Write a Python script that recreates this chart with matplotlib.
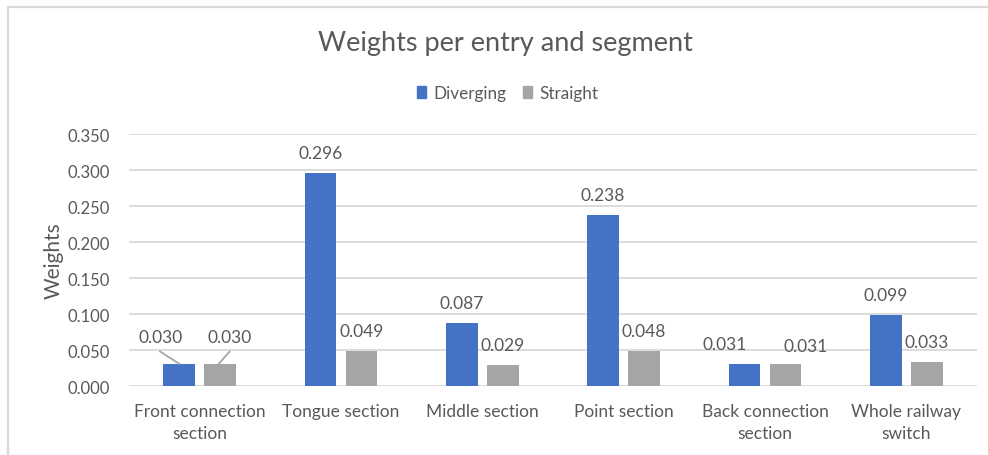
import matplotlib
matplotlib.use("Agg")
import matplotlib.pyplot as plt
from matplotlib.patches import Rectangle
import numpy as np

plt.rcParams['font.family'] = ['Lato', 'DejaVu Sans']

categories = ["Front connection\nsection", "Tongue section", "Middle section",
              "Point section", "Back connection\nsection", "Whole railway\nswitch"]
diverging = [0.030, 0.296, 0.087, 0.238, 0.031, 0.099]
straight = [0.030, 0.049, 0.029, 0.048, 0.031, 0.033]
yticks = [0.0, 0.05, 0.10, 0.15, 0.20, 0.25, 0.30, 0.35]

BLUE = "#4472C4"
GRAY = "#A5A5A5"
TEXT = "#595959"
GRID = "#D9D9D9"

W, H = 988, 456
fig = plt.figure(figsize=(W / 100, H / 100), dpi=100)
fig.patch.set_facecolor("white")

# chart border (runs off the right and bottom edge)
fig.patches.append(Rectangle((8 / W, -0.1), 1.2, 1 - 7.5 / H + 0.1,
                             transform=fig.transFigure, fill=False,
                             edgecolor=GRID, linewidth=1.6))

ax = fig.add_axes([129 / W, 1 - 387 / H, (977 - 129) / W, (387 - 135) / H])
x = np.arange(len(categories))
bw = 0.226
off = 0.145
ax.bar(x - off, diverging, width=bw, color=BLUE, zorder=3)
ax.bar(x + off, straight, width=bw, color=GRAY, zorder=3)

ax.set_xlim(-0.5, len(categories) - 0.5)
ax.set_ylim(0, 0.35)
ax.set_yticks(yticks)
ax.set_yticklabels([f"{v:.3f}" for v in yticks])
ax.grid(axis="y", color=GRID, linewidth=1.3, zorder=0)
for s in ax.spines.values():
    s.set_visible(False)
ax.tick_params(axis="both", length=0, colors=TEXT, labelsize=12)
ax.tick_params(axis="y", pad=13.5)
ax.tick_params(axis="x", pad=12, labelsize=12.5)
ax.set_xticks(x)
ax.set_xticklabels(categories, linespacing=1.45)
ax.set_ylabel("Weights", color=TEXT, fontsize=15, labelpad=3)

# value labels
ypix = 0.35 / 252.0
xpix = 1.0 / 141.33
# pixel offsets for the lifted labels of the first group:
# (label dx from bar centre, line start dx from label, line end dx from bar)
leader = {-1: (-19, -1, 1), 1: (9, 1, -2)}
for i in range(len(categories)):
    for val, sign in ((diverging[i], -1), (straight[i], 1)):
        bx = i + sign * off
        if i == 0:
            # small bars: label lifted, joined to the bar by a leader line
            ldx, sdx, edx = leader[sign]
            lx = bx + ldx * xpix
            ly = val + 27 * ypix
            ax.text(lx, ly, f"{val:.3f}", ha="center", va="center",
                    color=TEXT, fontsize=12.5)
            ax.plot([lx + sdx * xpix, bx + edx * xpix], [val + 13.5 * ypix, val],
                    color="#A6A6A6", lw=1.3, zorder=4, solid_capstyle="butt")
        elif i == 4:
            # neighbouring labels pushed apart
            lx = bx + sign * 20 * xpix
            ax.text(lx, val + (18 + (sign < 0) * 1.5) * ypix, f"{val:.3f}",
                    ha="center", va="center", color=TEXT, fontsize=12.5)
        else:
            ax.text(bx, val + 20 * ypix, f"{val:.3f}", ha="center", va="center",
                    color=TEXT, fontsize=12.5)

fig.text(505.5 / W, 1 - 43 / H, "Weights per entry and segment", ha="center",
         va="center", color=TEXT, fontsize=19.5)

handles = [Rectangle((0, 0), 1, 1, color=BLUE), Rectangle((0, 0), 1, 1, color=GRAY)]
fig.legend(handles, ["Diverging", "Straight"], loc="center",
           bbox_to_anchor=(507.5 / W, 1 - 94 / H), ncol=2, frameon=False,
           fontsize=12.3, labelcolor=TEXT, handlelength=0.55, handleheight=0.7,
           handletextpad=0.4, columnspacing=1.0)

fig.savefig("out.png", dpi=100, facecolor="white")
